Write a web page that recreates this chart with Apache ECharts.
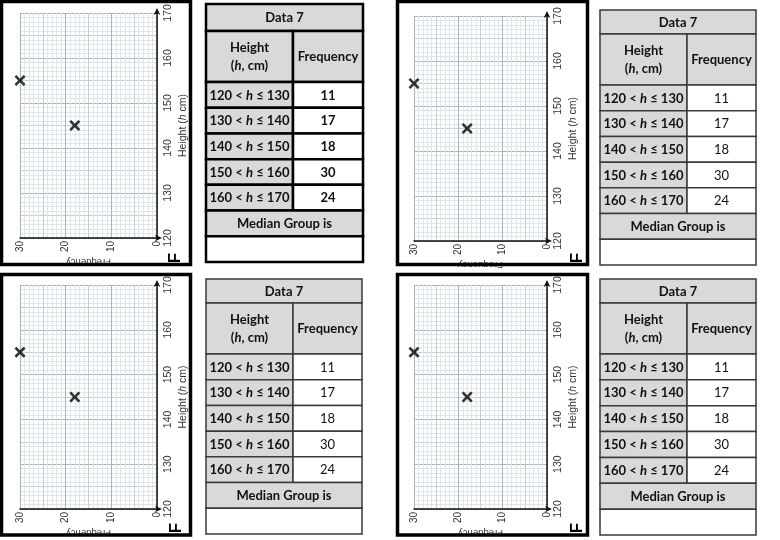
<!DOCTYPE html>
<html>
<head>
<meta charset="utf-8">
<script src="https://cdn.jsdelivr.net/npm/echarts@6/dist/echarts.min.js"></script>
<style>html,body{margin:0;padding:0;background:#fff;}#c{width:780px;height:540px;}</style>
</head>
<body>
<div id="c"></div>
<script>
// ---- data ----
const heightTicks = [120, 130, 140, 150, 160, 170];
const freqTicks = [0, 10, 20, 30];
const classLower = [120, 130, 140, 150, 160];
const classUpper = [130, 140, 150, 160, 170];
const frequencies = [11, 17, 18, 30, 24];
const plotFreqs = [30, 18];
const plotHeights = [155, 145];
const tableTitle = 'Data 7';
const headerFreq = 'Frequency';
const footerText = 'Median Group is';
const heightAxisName = ['Height (', 'h', ' cm)'];
const freqAxisName = 'Frequency';
const cornerLetter = 'F';

// ---- layout ----
const panels = [
  {grid: {left: 20, top: 13, width: 137, height: 225}, box: [1.5, 1.5, 189, 263],
   table: {x: 206, y: 4, w: 157, split: 87, title: 27, header: 51, bottom: 262}, heavy: true, F: [175, 258]},
  {grid: {left: 414, top: 16, width: 133, height: 225}, box: [397.5, 1.5, 190, 263],
   table: {x: 600, y: 10, w: 156, split: 87, title: 24, header: 51, bottom: 265}, heavy: false, F: [577, 258]},
  {grid: {left: 20, top: 285, width: 137, height: 224}, box: [1.5, 274.5, 189, 260.5],
   table: {x: 206, y: 279, w: 156, split: 87, title: 24, header: 51, bottom: 534}, heavy: false, F: [176, 528]},
  {grid: {left: 414, top: 285, width: 133, height: 224}, box: [397.5, 274.5, 190, 260.5],
   table: {x: 600, y: 279, w: 156, split: 87, title: 24, header: 51, bottom: 535}, heavy: false, F: [577, 528]}
];

const minorC = '#dfe5e8', midC = '#c6ced3', majC = '#aab5bb';
function cycleColors() {
  const arr = [];
  for (let i = 0; i < 10; i++) arr.push(i === 0 ? majC : (i === 5 ? midC : minorC));
  return arr;
}
const xSym = 'path://M0,1.7 L1.7,0 L5,3.3 L8.3,0 L10,1.7 L6.7,5 L10,8.3 L8.3,10 L5,6.7 L1.7,10 L0,8.3 L3.3,5 Z';

const grids = [], xAxes = [], yAxes = [], series = [], graphics = [];
const FONT = 'Lato';

panels.forEach((p, k) => {
  grids.push(Object.assign({containLabel: false}, p.grid));
  xAxes.push({
    type: 'value', gridIndex: k, position: 'bottom', inverse: true,
    min: freqTicks[0], max: freqTicks[freqTicks.length - 1], interval: 1,
    axisLine: {show: true, onZero: false, lineStyle: {color: '#111', width: 1.5},
      symbol: ['none', 'arrow'], symbolSize: [5, 7], symbolOffset: [0, 5]},
    axisTick: {show: false},
    axisLabel: {rotate: 90, margin: 3, fontSize: 10, color: '#333', fontFamily: 'Liberation Sans',
      formatter: v => freqTicks.includes(v) ? String(v) : ''},
    splitLine: {show: true, lineStyle: {color: cycleColors(), width: 1}},
    name: freqAxisName, nameLocation: 'middle', nameGap: 18.5, nameRotate: 180, nameMoveOverlap: false,
    nameTextStyle: {fontSize: 9.5, color: '#333', fontFamily: 'Liberation Sans'}
  });
  yAxes.push({
    type: 'value', gridIndex: k, position: 'right',
    min: heightTicks[0], max: heightTicks[heightTicks.length - 1], interval: 1,
    axisLine: {show: true, onZero: false, lineStyle: {color: '#111', width: 1.5},
      symbol: ['none', 'arrow'], symbolSize: [5, 7], symbolOffset: [0, 5]},
    axisTick: {show: false},
    axisLabel: {rotate: 90, margin: 6, fontSize: 10.5, color: '#333', fontFamily: 'Liberation Sans',
      formatter: v => heightTicks.includes(v) ? String(v) : ''},
    splitLine: {show: true, lineStyle: {color: cycleColors(), width: 1}},
    name: '{n|' + heightAxisName[0] + '}{i|' + heightAxisName[1] + '}{n|' + heightAxisName[2] + '}',
    nameLocation: 'middle', nameGap: 21, nameRotate: 90, nameMoveOverlap: false,
    nameTextStyle: {rich: {
      n: {fontSize: 10.5, color: '#333', fontFamily: 'Liberation Sans'},
      i: {fontSize: 10.5, color: '#333', fontFamily: 'Liberation Sans', fontStyle: 'italic'}}}
  });
  series.push({
    type: 'scatter', xAxisIndex: k, yAxisIndex: k,
    data: plotFreqs.map((f, i) => [f, plotHeights[i]]),
    symbol: xSym, symbolSize: 11, itemStyle: {color: '#000'}, z: 5
  });

  // outer panel box
  graphics.push({type: 'rect', z: 100, shape: {x: p.box[0], y: p.box[1], width: p.box[2], height: p.box[3]},
    style: {fill: 'none', stroke: '#000', lineWidth: 3.5}});
  // corner letter
  graphics.push({type: 'text', z: 100, x: p.F[0], y: p.F[1], rotation: Math.PI / 2,
    style: {text: cornerLetter, font: 'bold 17px "Liberation Sans"', fill: '#000', align: 'center', verticalAlign: 'middle'}});

  // table
  const t = p.table;
  const lw = p.heavy ? 2.5 : 1.5;
  const stroke = p.heavy ? '#000' : '#3a3a3a';
  const grey = '#d9d9d9';
  const fs = 13;
  const rich = {
    b: {fontFamily: FONT, fontWeight: 'bold', fontSize: fs, fill: '#111'},
    i: {fontFamily: FONT, fontWeight: 'bold', fontStyle: 'italic', fontSize: fs, fill: '#111'},
    r: {fontFamily: FONT, fontWeight: p.heavy ? 'bold' : 'normal', fontSize: fs, fill: '#111'}
  };
  const nRows = classLower.length + 2;
  const rowH = (t.bottom - (t.y + t.title + t.header)) / nRows;
  const cell = (x, y, w, h, fill, text) => {
    graphics.push({type: 'rect', z: 50, shape: {x, y, width: w, height: h},
      style: {fill, stroke, lineWidth: lw}});
    if (text) graphics.push({type: 'text', z: 51, x: x + w / 2, y: y + h / 2 + 0.5,
      style: {text, rich, align: 'center', verticalAlign: 'middle', lineHeight: 18}});
  };
  let y = t.y;
  cell(t.x, y, t.w, t.title, grey, '{b|' + tableTitle + '}');
  y += t.title;
  cell(t.x, y, t.split, t.header, grey, '{b|Height}\n{b|(}{i|h}{b|, cm)}');
  cell(t.x + t.split, y, t.w - t.split, t.header, grey, '{b|' + headerFreq + '}');
  y += t.header;
  classLower.forEach((lo, i) => {
    cell(t.x, y, t.split, rowH, grey, '{b|' + lo + ' < }{i|h}{b| ≤ ' + classUpper[i] + '}');
    cell(t.x + t.split, y, t.w - t.split, rowH, '#fff', '{r|' + frequencies[i] + '}');
    y += rowH;
  });
  cell(t.x, y, t.w, rowH, grey, '{b|' + footerText + '}');
  y += rowH;
  cell(t.x, y, t.w, t.bottom - y, '#fff', '');
});

const chart = echarts.init(document.getElementById('c'), null, {renderer: 'canvas'});
chart.setOption({
  backgroundColor: '#fff',
  animation: false,
  grid: grids, xAxis: xAxes, yAxis: yAxes, series: series,
  graphic: {elements: graphics}
});
</script>
</body>
</html>
